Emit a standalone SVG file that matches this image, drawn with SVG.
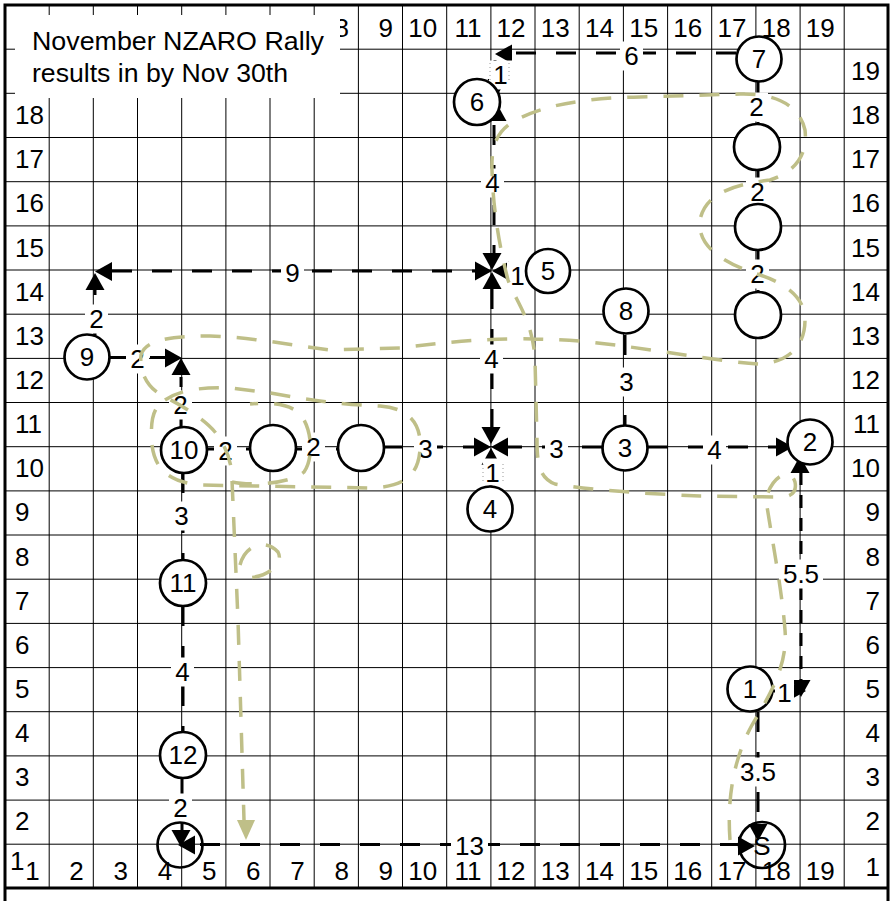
<svg xmlns="http://www.w3.org/2000/svg" xmlns:xlink="http://www.w3.org/1999/xlink" width="892" height="901" viewBox="0 0 892 901">
<style>
.grid{stroke:#000;stroke-width:1;fill:none}
.border{stroke:#000;stroke-width:3;fill:none}
.t{font-family:"Liberation Sans",Arial,sans-serif;font-size:26px;fill:#000}
.m{text-anchor:middle}
.e{text-anchor:end}
.c{stroke:#000;stroke-width:3;fill:none;stroke-dasharray:20 20}
.c2{stroke:#000;stroke-width:3;fill:none;stroke-dasharray:13 10}
.lb{fill:#fff}
.node circle{fill:#fff;stroke:#000;stroke-width:2.7}
.open{fill:none;stroke:#000;stroke-width:2.7}
.ol{stroke:#bfbf88;stroke-width:3.5;fill:none;stroke-dasharray:20 16}
.dot{stroke:#999;stroke-width:1;stroke-dasharray:1 3}
</style>
<defs>
<path id="ah" d="M0,0 L-17,-9.5 L-17,9.5 Z" fill="#000"/>
</defs>
<rect width="892" height="901" fill="#fff"/>
<g id="grid">
<path class="grid" d="M49.2 5V888M93.3 5V888M137.5 5V888M181.7 5V888M225.9 5V888M270 5V888M314.2 5V888M358.4 5V888M402.5 5V888M446.7 5V888M490.9 5V888M535 5V888M579.2 5V888M623.4 5V888M667.6 5V888M711.7 5V888M755.9 5V888M800.1 5V888M844.2 5V888"/>
<path class="grid" d="M5 49.2H888M5 93.3H888M5 137.5H888M5 181.7H888M5 225.9H888M5 270H888M5 314.2H888M5 358.4H888M5 402.5H888M5 446.7H888M5 490.9H888M5 535H888M5 579.2H888M5 623.4H888M5 667.6H888M5 711.7H888M5 755.9H888M5 800.1H888M5 844.2H888"/>
<path class="border" d="M5 901V5H888V901M5 888H888"/>
</g>
<g id="colLabels" class="t e">
<text x="348.9" y="36.5">8</text><text x="393" y="36.5">9</text><text x="437.2" y="36.5">10</text><text x="481.4" y="36.5">11</text><text x="525.5" y="36.5">12</text><text x="569.7" y="36.5">13</text><text x="613.9" y="36.5">14</text><text x="658.1" y="36.5">15</text><text x="702.2" y="36.5">16</text><text x="746.4" y="36.5">17</text><text x="790.6" y="36.5">18</text><text x="834.7" y="36.5">19</text>
<text x="39.7" y="880">1</text><text x="83.8" y="880">2</text><text x="128" y="880">3</text><text x="172.2" y="880">4</text><text x="216.4" y="880">5</text><text x="260.5" y="880">6</text><text x="304.7" y="880">7</text><text x="348.9" y="880">8</text><text x="393" y="880">9</text><text x="437.2" y="880">10</text><text x="481.4" y="880">11</text><text x="525.5" y="880">12</text><text x="569.7" y="880">13</text><text x="613.9" y="880">14</text><text x="658.1" y="880">15</text><text x="702.2" y="880">16</text><text x="746.4" y="880">17</text><text x="790.6" y="880">18</text><text x="834.7" y="880">19</text>
</g>
<g id="rowLabels" class="t">
<text x="15" y="124">18</text><text x="15" y="168">17</text><text x="15" y="212">16</text><text x="15" y="256.5">15</text><text x="15" y="300.5">14</text><text x="15" y="344.5">13</text><text x="15" y="389">12</text><text x="15" y="433">11</text><text x="15" y="477">10</text><text x="15" y="521">9</text><text x="15" y="565.5">8</text><text x="15" y="609.5">7</text><text x="15" y="653.5">6</text><text x="15" y="698">5</text><text x="15" y="742">4</text><text x="15" y="786">3</text><text x="15" y="830">2</text><text x="10" y="870">1</text>
</g>
<g id="rowLabelsRight" class="t e">
<text x="880" y="80">19</text><text x="880" y="124">18</text><text x="880" y="168">17</text><text x="880" y="212">16</text><text x="880" y="256.5">15</text><text x="880" y="300.5">14</text><text x="880" y="344.5">13</text><text x="880" y="389">12</text><text x="880" y="433">11</text><text x="880" y="477">10</text><text x="880" y="521">9</text><text x="880" y="565.5">8</text><text x="880" y="609.5">7</text><text x="880" y="653.5">6</text><text x="880" y="698">5</text><text x="880" y="742">4</text><text x="880" y="786">3</text><text x="880" y="830">2</text><text x="880" y="876">1</text>
</g>
<g id="title">
<rect x="15" y="15" width="325" height="83" fill="#fff"/>
<text class="t" x="32" y="50" textLength="292" lengthAdjust="spacingAndGlyphs">November NZARO Rally</text>
<text class="t" x="32" y="82" textLength="256" lengthAdjust="spacingAndGlyphs">results in by Nov 30th</text>
</g>
<g id="connectors">
<path class="c" d="M740 844.5H197"/>
<path class="c" d="M182 778V830"/>
<path class="c" d="M183 606V732"/>
<path class="c" d="M183 473V560"/>
<path class="c" d="M181 427V377"/>
<path class="c" d="M110 357.5H165"/>
<path class="c" d="M95 335V290"/>
<path class="c" d="M112 271H475"/>
<path class="c" d="M494 125V253"/>
<path class="c" d="M495 60V80"/>
<path class="c" d="M736 53H512"/>
<path class="c" d="M526 271H509"/>
<path class="c" d="M492 289V427"/>
<path class="c" d="M383 447H474"/>
<path class="c" d="M602 447H508"/>
<path class="c" d="M491 487V465"/>
<path class="c" d="M625 335V440"/>
<path class="c" d="M648 447H776"/>
<path class="c2" d="M801 472V680"/>
<path class="c" d="M773 691H790"/>
<path class="c" d="M758 712V823"/>
<path class="c" d="M206 449H250"/>
<path class="c" d="M296 449H338"/>
<path class="c" d="M758 82V124"/>
<path class="c" d="M758 170V204"/>
<path class="c" d="M758 250V292"/>
<g id="arrowheads">
<use xlink:href="#ah" transform="translate(178 845) rotate(180)"/>
<use xlink:href="#ah" transform="translate(181 847) rotate(90)"/>
<use xlink:href="#ah" transform="translate(755 846)"/>
<use xlink:href="#ah" transform="translate(758 841) rotate(90)"/>
<use xlink:href="#ah" transform="translate(181 358) rotate(-90)"/>
<use xlink:href="#ah" transform="translate(182 358)"/>
<use xlink:href="#ah" transform="translate(95 273) rotate(-90)"/>
<use xlink:href="#ah" transform="translate(95 271.5) rotate(180)"/>
<use xlink:href="#ah" transform="translate(492 271)"/>
<use xlink:href="#ah" transform="translate(492 270) rotate(90)"/>
<use xlink:href="#ah" transform="translate(492 271) rotate(180)"/>
<use xlink:href="#ah" transform="translate(492 272) rotate(-90)"/>
<use xlink:href="#ah" transform="translate(495 54) rotate(180)"/>
<use xlink:href="#ah" transform="translate(497 96) rotate(90)"/>
<use xlink:href="#ah" transform="translate(497 104) rotate(-90)"/>
<use xlink:href="#ah" transform="translate(491 444) rotate(90)"/>
<use xlink:href="#ah" transform="translate(491 447)"/>
<use xlink:href="#ah" transform="translate(491 447) rotate(180)"/>
<use xlink:href="#ah" transform="translate(491 448) rotate(-90)"/>
<use xlink:href="#ah" transform="translate(793 447)"/>
<use xlink:href="#ah" transform="translate(800 456) rotate(-90)"/>
<use xlink:href="#ah" transform="translate(801 697) rotate(90)"/>
<use xlink:href="#ah" transform="translate(806 691)"/>
</g>
</g>
<g id="connectorLabels" class="t m">
<rect class="lb" x="451" y="831.5" width="37" height="27"/><text x="469.5" y="855">13</text>
<rect class="lb" x="169" y="793.5" width="23" height="29"/><text x="180.5" y="817">2</text>
<rect class="lb" x="171" y="657.5" width="23" height="29"/><text x="182.5" y="681">4</text>
<rect class="lb" x="170" y="501.5" width="23" height="29"/><text x="181.5" y="525">3</text>
<rect class="lb" x="169" y="390.5" width="23" height="29"/><text x="180.5" y="414">2</text>
<rect class="lb" x="126" y="344.5" width="23" height="29"/><text x="137.5" y="368">2</text>
<rect class="lb" x="85" y="304.5" width="23" height="29"/><text x="96.5" y="328">2</text>
<rect class="lb" x="281" y="258.5" width="23" height="29"/><text x="292.5" y="282">9</text>
<rect class="lb" x="481" y="168.5" width="23" height="29"/><text x="492.5" y="192">4</text>
<rect class="lb" x="489" y="60.5" width="23" height="29"/><text x="500.5" y="84">1</text>
<rect class="lb" x="620" y="41.5" width="23" height="29"/><text x="631.5" y="65">6</text>
<rect class="lb" x="507" y="261.5" width="19" height="29"/><text x="517.5" y="285">1</text>
<rect class="lb" x="480" y="344.5" width="23" height="29"/><text x="491.5" y="368">4</text>
<rect class="lb" x="414" y="434.5" width="23" height="29"/><text x="425.5" y="458">3</text>
<rect class="lb" x="545" y="434.5" width="23" height="29"/><text x="556.5" y="458">3</text>
<rect class="lb" x="483" y="458.5" width="20" height="27"/><text x="492.5" y="482">1</text>
<rect class="lb" x="615" y="367.5" width="23" height="29"/><text x="626.5" y="391">3</text>
<rect class="lb" x="703" y="435.5" width="23" height="29"/><text x="714.5" y="459">4</text>
<rect class="lb" x="779" y="559.5" width="44" height="29"/><text x="801" y="583">5.5</text>
<rect class="lb" x="775" y="678.5" width="19" height="29"/><text x="784.5" y="702">1</text>
<rect class="lb" x="736" y="757.5" width="44" height="29"/><text x="758" y="781">3.5</text>
<rect class="lb" x="214" y="436.5" width="23" height="29"/><text x="225.5" y="460">2</text>
<rect class="lb" x="302" y="432.5" width="23" height="29"/><text x="313.5" y="456">2</text>
<rect class="lb" x="745" y="92.5" width="23" height="29"/><text x="756.5" y="116">2</text>
<rect class="lb" x="746" y="177.5" width="23" height="29"/><text x="757.5" y="201">2</text>
<rect class="lb" x="746" y="259.5" width="23" height="29"/><text x="757.5" y="283">2</text>
<path class="dot" d="M490 63V82M509 63V82M483 464V482M503 464V482"/>
</g>
<g id="nodes" class="t m">
<g id="n1" class="node"><circle cx="750" cy="689" r="22.5"/><text x="750" y="698">1</text></g>
<g id="n2" class="node"><circle cx="810" cy="442" r="22.5"/><text x="810" y="451">2</text></g>
<g id="n3" class="node"><circle cx="625" cy="448" r="22.5"/><text x="625" y="457">3</text></g>
<g id="n4" class="node"><circle cx="490" cy="509" r="22.5"/><text x="490" y="518">4</text></g>
<g id="n5" class="node"><circle cx="548" cy="271" r="22"/><text x="548" y="280">5</text></g>
<g id="n6" class="node"><circle cx="477" cy="102" r="23"/><text x="477" y="111">6</text></g>
<g id="n7" class="node"><circle cx="759" cy="59" r="22.5"/><text x="759" y="68">7</text></g>
<g id="n8" class="node"><circle cx="626" cy="311" r="22.5"/><text x="626" y="320">8</text></g>
<g id="n9" class="node"><circle cx="87" cy="357" r="22.5"/><text x="87" y="366">9</text></g>
<g id="n10" class="node"><circle cx="184" cy="450" r="23"/><text x="184" y="459">10</text></g>
<g id="n11" class="node"><circle cx="183" cy="583" r="23"/><text x="183" y="592">11</text></g>
<g id="n12" class="node"><circle cx="183" cy="755" r="23"/><text x="183" y="764">12</text></g>
<g id="b1" class="node"><circle cx="273" cy="448" r="23"/></g>
<g id="b2" class="node"><circle cx="361" cy="448" r="23"/></g>
<g id="b3" class="node"><circle cx="757" cy="147" r="23"/></g>
<g id="b4" class="node"><circle cx="758" cy="227" r="23"/></g>
<g id="b5" class="node"><circle cx="758" cy="315" r="23"/></g>
<g id="nS"><circle class="open" cx="762" cy="845" r="23"/><text x="762" y="855">S</text></g>
<g id="nF"><circle class="open" cx="180" cy="845" r="22.5"/></g>
</g>
<g id="route">
<path class="ol" d="M730 840C727 800 733 760 752 725C770 695 788 665 785 630C782 590 772 540 766 500C770 478 790 465 795 482C797 492 792 497 780 497L700 496C650 494 590 490 555 484C540 478 537 465 537 440L535 360C533 320 515 300 508 280C500 250 493 210 492 170C491 140 500 128 520 118C545 106 580 98 640 97L740 94C780 93 800 108 805 130C808 155 795 172 770 180C730 185 705 195 700 220C697 245 720 262 760 275C790 285 805 300 805 320C805 345 790 362 760 364C720 362 650 348 580 341C500 335 440 343 400 348L330 350C290 345 250 337 210 336C170 336 145 340 141 355C139 375 150 390 165 397C185 407 205 420 215 432C225 445 232 460 232 480L238 620L244 820"/>
<path d="M246 840L237 820H255Z" fill="#bfbf88"/>
<path class="ol" d="M165 400C180 390 200 387 230 388L270 393C300 398 330 404 380 406C410 408 422 425 420 450C418 475 405 487 370 488L200 485C170 482 155 470 152 445C150 420 153 407 165 400"/>
<path class="ol" d="M232 482C250 486 290 484 304 472C314 458 312 428 300 414C290 404 270 402 250 404"/>
<path class="ol" d="M240 565C245 545 265 538 278 552C285 565 265 578 245 578"/>
</g>
</svg>
